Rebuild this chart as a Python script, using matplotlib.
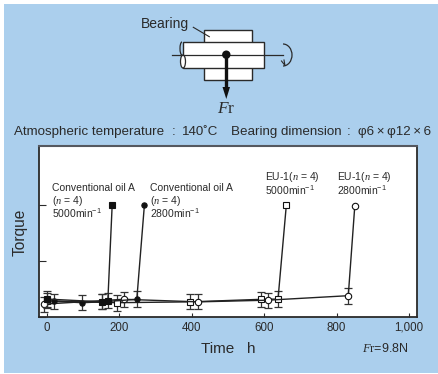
import matplotlib
matplotlib.use("Agg")
import matplotlib.pyplot as plt
from matplotlib.patches import Rectangle, Ellipse, Arc, Circle, Polygon

plt.rcParams['font.family'] = ['Liberation Sans', 'DejaVu Sans']
plt.rcParams['mathtext.fontset'] = 'custom'
plt.rcParams['mathtext.it'] = 'Liberation Serif:italic'
plt.rcParams['mathtext.rm'] = 'Liberation Serif'

INK = '#2a2a2a'
BLUE = '#abcfed'
W, H = 438, 374

# data (hours, torque in tick units); the last point of each series has no error bar
conv_5000_x = [1, 152, 168, 180]
conv_5000_y = [0.32, 0.27, 0.29, 2.0]
conv_2800_x = [20, 97, 152, 248, 269]
conv_2800_y = [0.28, 0.255, 0.27, 0.316, 2.0]
eu_5000_x = [0, 192, 395, 590, 638, 661]
eu_5000_y = [0.29, 0.255, 0.27, 0.315, 0.32, 2.0]
eu_2800_x = [-7, 212, 418, 610, 832, 850]
eu_2800_y = [0.23, 0.316, 0.27, 0.30, 0.38, 1.98]
err_conv_5000 = [0.135, 0.135, 0.135]
err_conv_2800 = [0.135, 0.135, 0.135, 0.14]
err_eu_5000 = [0.135, 0.145, 0.135, 0.135, 0.135]
err_eu_2800 = [0.135, 0.135, 0.135, 0.135, 0.143]
x_ticks = [0, 200, 400, 600, 800, 1000]
x_labels = ['0', '200', '400', '600', '800', '1,000']
y_ticks = [0, 1, 2]

fig = plt.figure(figsize=(W / 100, H / 100), dpi=100, facecolor='white')
bg = fig.add_axes([0, 0, 1, 1], zorder=0)
bg.set_xlim(0, W)
bg.set_ylim(H, 0)
bg.axis('off')
bg.add_patch(Rectangle((4, 4), W - 4, H - 5, fc=BLUE, ec='none'))

# schematic of the test bearing
bg.add_patch(Rectangle((203.7, 30), 48.6, 50.3, fc='white', ec=INK, lw=1))
bg.add_patch(Rectangle((182.5, 42.3), 81, 25.7, fc='white', ec=INK, lw=1))
bg.add_patch(Ellipse((183, 61.5), 5, 13, fc='white', ec=INK, lw=0.9))
bg.add_patch(Arc((182, 48.5), 4, 13, theta1=90, theta2=270, ec=INK, lw=0.9))
bg.plot([172, 283], [54.7, 54.7], color=INK, lw=0.9)
bg.add_patch(Arc((283, 55), 18, 22, theta1=-90, theta2=90, ec=INK, lw=0.9))
bg.plot([281.5, 285, 284], [61, 65.5, 60], color=INK, lw=0.8)
bg.add_patch(Circle((226.3, 54.7), 4.2, fc='#111111', ec='none', zorder=4))
bg.plot([226.3, 226.3], [55, 90], color='#111111', lw=2.4, zorder=4, solid_capstyle='butt')
bg.add_patch(Polygon([[222.5, 87], [230, 87], [226.3, 99]], closed=True, fc='#111111', ec='none', zorder=4))
bg.plot([193.3, 209.3], [27.3, 36.7], color=INK, lw=0.8)
bg.text(141, 24, 'Bearing', fontsize=10, color=INK, va='center', ha='left')
bg.text(226.5, 108.5, r'$\mathit{F}\mathrm{r}$', fontsize=12.5, color=INK, ha='center', va='center')

line_font = ['Liberation Sans', 'Noto Sans CJK JP', 'DejaVu Sans']
header = [(14, 'Atmospheric temperature', 'left'), (174, ':', 'center'), (181.7, '140˚C', 'left'),
          (230.7, 'Bearing dimension', 'left'), (349, ':', 'center'),
          (358, 'φ6\u2009×\u2009φ12\u2009×\u20096', 'left')]
for hx, t, ha in header:
    bg.text(hx, 132, t, fontsize=9.6, color=INK, va='center', ha=ha, family=line_font)

# chart
left, right, top, bottom = 38.5, 416.7, 146, 317
ax = fig.add_axes([left / W, 1 - bottom / H, (right - left) / W, (bottom - top) / H], zorder=2)
ax.set_facecolor('white')
ax.set_xlim(-23.5, 1021)
ax.set_ylim(0, 3.05)
ax.set_xticks(x_ticks)
ax.set_xticklabels(x_labels, fontsize=8.3, color=INK)
ax.set_yticks(y_ticks)
ax.set_yticklabels([])
ax.tick_params(axis='x', direction='in', length=3, width=0.8, color=INK, pad=3.5)
ax.tick_params(axis='y', direction='in', length=5, width=0.8, color=INK)
for name, s in ax.spines.items():
    s.set_color(INK)
    s.set_linewidth(1.3)
ax.spines['top'].set_color('#55585f')
ax.spines['top'].set_linewidth(1.5)


def draw(x, y, err, marker, face, size, z):
    ax.errorbar(x[:-1], y[:-1], yerr=err, fmt='none', ecolor='#333333', elinewidth=0.9,
                capsize=2.6, capthick=0.9, zorder=z)
    ax.plot(x, y, color='#222222', lw=1, marker=marker, mfc=face, mec='#111111',
            mew=0.8, ms=size, zorder=z + 0.5)


draw(eu_5000_x, eu_5000_y, err_eu_5000, 's', 'white', 4.6, 3)
draw(eu_2800_x, eu_2800_y, err_eu_2800, 'o', 'white', 4.6, 4)
draw(conv_2800_x, conv_2800_y, err_conv_2800, 'o', '#111111', 3.8, 5)
draw(conv_5000_x, conv_5000_y, err_conv_5000, 's', '#111111', 4.4, 5)

n4 = r'($\mathit{n}$ = 4)'
sup = '5000min$^{\\mathregular{-1}}$'
sup2 = '2800min$^{\\mathregular{-1}}$'
labels = [(52, 188, 'Conventional oil A'), (52, 200.5, n4), (52, 213.5, sup),
          (150, 188, 'Conventional oil A'), (150, 200.5, n4), (150, 213.5, sup2),
          (265, 177.5, 'EU-1' + n4), (265, 190.5, sup),
          (337, 177.5, 'EU-1' + n4), (337, 190.5, sup2)]
for lx, ly, t in labels:
    fig.text(lx / W, 1 - ly / H, t, fontsize=7.5, color=INK, va='center', ha='left', zorder=6)

fig.text(20 / W, 1 - 232 / H, 'Torque', rotation=90, fontsize=11.2, color=INK, ha='center', va='center')
fig.text(228 / W, 1 - 349 / H, 'Time   h', fontsize=11, color=INK, ha='center', va='center')
fig.text(361.5 / W, 1 - 348 / H, r'$\mathit{F}\mathrm{r}$=9.8N', fontsize=9, color=INK, ha='left', va='center')

fig.savefig('out.png', dpi=100)
